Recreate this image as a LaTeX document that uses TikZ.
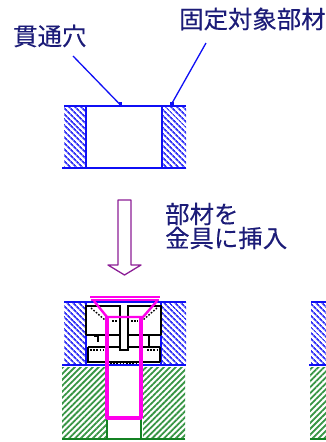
\documentclass[tikz,border=0pt]{standalone}
\usepackage{fontspec}
\newfontfamily\cjk[FakeBold=0.25]{Noto Sans CJK JP}
\usetikzlibrary{patterns.meta}
\definecolor{blueL}{RGB}{15,15,245}
\definecolor{greenL}{RGB}{20,130,35}
\definecolor{pinkL}{RGB}{255,0,235}
\definecolor{purpL}{RGB}{140,30,150}
\definecolor{txtL}{RGB}{28,28,120}
\tikzset{
  lbl/.style={font=\cjk\fontsize{24.4pt}{25pt}\selectfont,text=txtL,inner sep=0pt,anchor=west},
  bluehatch/.style={pattern={Lines[angle=-45,distance=4pt,line width=1.9pt]},pattern color=blueL!85},
  greenhatch/.style={pattern={Lines[angle=45,distance=4.2pt,line width=1.8pt]},pattern color=greenL!85},
  blueline/.style={draw=blueL,line width=1.7pt},
  leader/.style={draw=blueL,line width=1.3pt},
  greenline/.style={draw=greenL,line width=1.8pt},
  pinkline/.style={draw=pinkL,line width=2.2pt},
  blackline/.style={draw=black,line width=1.6pt},
  dots/.style={draw=black,line width=1.4pt,dash pattern=on 1.6pt off 1.6pt},
}
\begin{document}
\begin{tikzpicture}[x=1pt,y=-1pt]
\useasboundingbox (0,0) rectangle (326,442);
\fill[white] (0,0) rectangle (326,442);
% labels
\node[lbl] (hole) at (13,36) {貫通穴};
\node[lbl] (member) at (179,19) {固定対象部材};
\node[lbl] (ins1) at (165,214) {部材を};
\node[lbl] (ins2) at (165,238) {金具に挿入};
% upper block
\fill[bluehatch] (64,106) rectangle (86,168);
\fill[bluehatch] (162,106) rectangle (186,168);
\draw[blueline] (64,106) -- (186,106);
\draw[blueline] (62,168) -- (186,168);
\draw[blueline] (86,106) -- (86,168);
\draw[blueline] (162,106) -- (162,168);
\coordinate (holeS) at (73,56);
\coordinate (holeE) at (120.5,105);
\coordinate (memS) at (206,43);
\coordinate (memE) at (171,105);
\draw[leader] (holeS) -- (holeE);
\draw[leader] (memS) -- (memE);
\fill[blueL] (119,102) rectangle (122,106);
\fill[blueL] (170,102) rectangle (174,106);
% hollow arrow
\draw[draw=purpL,line width=1.3pt,line join=round]
  (118,200) -- (131,200) -- (131,265) -- (141,265) -- (124.5,275) -- (108,265) -- (118,265) -- cycle;
% lower block
\fill[bluehatch] (64,302) rectangle (86,365);
\fill[bluehatch] (161,302) rectangle (186,365);
\fill[bluehatch] (311,302) rectangle (326,365);
\fill[greenhatch] (62,367) rectangle (106,439);
\fill[greenhatch] (143,367) rectangle (185,439);
\fill[greenhatch] (310,367) rectangle (326,439);
\draw[blueline] (64,302) -- (186,302);
\draw[blueline] (62,365) -- (186,365);
\draw[blueline] (86,302) -- (86,365);
\draw[blueline] (161,302) -- (161,365);
\draw[blueline] (311,302) -- (326,302);
\draw[blueline] (309,365) -- (326,365);
\draw[greenline] (62,439) -- (185,439);
\draw[greenline] (310,439) -- (326,439);
\draw[draw=greenL,line width=2.6pt] (107,418) -- (107,439);
\draw[draw=greenL,line width=2.6pt] (141,418) -- (141,439);
% fitting
\draw[blackline] (86,335) -- (86,306) -- (120,306) -- (120,350) -- (128,350) -- (128,306) -- (161,306) -- (161,335);
\draw[blackline] (86,335) -- (120,335);
\draw[blackline] (128,335) -- (161,335);
\draw[blackline] (88,347) -- (120,347);
\draw[blackline] (128,347) -- (160,347);
\draw[blackline] (88,347) -- (88,362) -- (160,362);
\draw[blackline] (160,347) -- (160,362);
\draw[blackline] (98,335) -- (98,342);
\draw[blackline] (149,335) -- (149,347);
\draw[blackline] (94,336) -- (99,336);
\draw[dots] (90,350) -- (103,350);
\draw[dots] (147,350) -- (157,350);
\draw[dots] (112,321) -- (118,321);
\draw[dots] (131,321) -- (138,321);
\draw[dots] (110,363.5) -- (138,363.5);
\draw[dots] (91,308) -- (105,320);
\draw[dots] (157,308) -- (143,320);
% screw
\draw[pinkline] (90,297) -- (160,297);
\draw[pinkline] (91,300) -- (159,300);
\draw[draw=pinkL,line width=2.4pt] (94,301) -- (107,317) -- (143,317) -- (157,301);
\draw[draw=pinkL,line width=3.4pt,line join=round] (107,317) -- (107,418) -- (141,418) -- (141,317);
\end{tikzpicture}
\end{document}
